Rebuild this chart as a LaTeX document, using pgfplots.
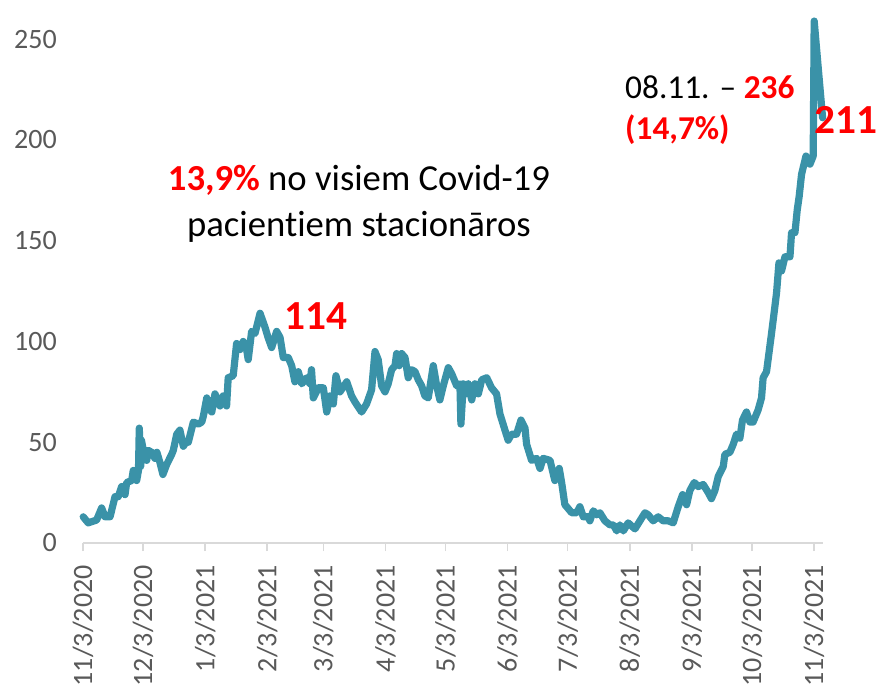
\documentclass[border=0pt]{standalone}
\usepackage{pgfplots}
\pgfplotsset{compat=1.18}
\usepackage{fontspec}
\setmainfont[Ligatures={NoCommon}]{Carlito}
\definecolor{linec}{HTML}{3A92A8}
\definecolor{tickc}{HTML}{595959}
\definecolor{axc}{HTML}{D9D9D9}
\begin{document}
\begin{tikzpicture}
\begin{axis}[
  at={(0,0)}, anchor=south west,
  scale only axis,
  width=555pt, height=396pt,
  xmin=0, xmax=369.5, ymin=0, ymax=262,
  clip=false,
  axis lines*=left,
  x axis line style={draw=axc, line width=1.2pt},
  y axis line style={draw=none},
  xtick={0,30,61,92,120,151,181,212,242,273,304,334,365},
  xticklabels={11/3/2020,12/3/2020,1/3/2021,2/3/2021,3/3/2021,4/3/2021,5/3/2021,6/3/2021,7/3/2021,8/3/2021,9/3/2021,10/3/2021,11/3/2021},
  ytick={0,50,100,150,200,250},
  tick align=outside,
  major tick length=6pt,
  xtick style={draw=axc, line width=1.2pt},
  ytick style={draw=none},
  /pgf/number format/assume math mode=true,
  tick label style={font=\fontsize{21}{25}\selectfont, text=tickc},
  yticklabel style={inner sep=0pt, anchor=east, xshift=-13.5pt},
  xticklabel shift=10.5pt,
  xticklabel style={inner sep=0pt, rotate=90, anchor=east},
]
\addplot[color=linec, line width=5.4pt, line join=round, line cap=round] coordinates {
(0.1,13) (2.6,10) (6.8,11.4) (9.3,17.4) (11,13) (13.5,13) (16,23) (17.6,23) (19.3,28) (21,24)
(21.8,30) (24.3,31) (25.1,36) (26.8,31) (27.7,36) (28.1,57) (28.8,38) (29.2,51) (30.1,46) (31.8,41)
(32.5,46) (34.3,45) (35.9,42) (36.9,45) (38.4,40) (39.9,34) (41.8,39) (44.3,44) (45.1,46) (46.8,54)
(48.4,56) (50.1,48) (51.4,50) (52.6,50) (55.1,60) (57.6,59) (59.3,60) (60.1,63) (61.8,72) (62.6,67)
(64.3,65) (65.9,74) (68.4,68) (70,73) (71.7,68) (72.5,82) (75,83) (76.7,99) (78.4,96) (80,100)
(81.7,96) (82.5,91) (84.2,105) (85.9,104) (88.4,114) (90.9,107) (92.4,102) (94.2,97) (96.7,105) (98.4,102)
(100,92) (102.5,92) (104.2,88) (105.8,80) (107.5,85) (109.2,79) (111.7,82) (113.3,79) (114.1,86) (115,72)
(117.5,77) (120,77) (121.7,65) (123.3,73) (125,69) (126.3,83) (128.3,75) (131.7,80) (134.1,73) (135.8,70)
(139.1,65) (141.6,69) (144.1,76) (145.8,95) (147.4,91) (149.1,78) (150.8,75) (152.4,79) (154.1,86) (155.8,88)
(156.6,94) (157.9,88) (159.1,94) (160.8,92) (162.4,82) (164.1,86) (165.8,85) (167.4,81) (169.1,78) (170.7,73)
(172.4,72) (174.9,88) (176.6,78) (178.2,71) (179.9,78) (182.4,87) (184.1,84) (186.6,78) (188.2,79) (188.7,59)
(189.9,79) (191.2,74) (192.4,79) (194.1,71) (195.7,79) (197.4,74) (199.1,81) (201.6,82) (204,77) (206.5,74)
(208.2,64) (210.7,56) (212.3,51) (214,54) (216.5,54) (218.7,61) (220.7,57) (221.5,49) (224,41) (226.5,42)
(228.2,37) (229.8,42) (233.2,41) (235.6,31) (237.8,37) (239,30) (240.6,19) (241.5,18) (244,15) (246.5,15)
(248.1,18) (249.8,13) (252.3,13) (253.1,11) (254.8,16) (256.5,14) (258.1,15) (260.6,11) (263.1,9) (264.8,9)
(266.5,6) (268.1,9) (269.8,6) (272.2,10) (275.6,7) (278.1,11) (280.6,15) (282.2,14) (284.7,11) (287.2,13)
(289.7,11) (292.2,11) (294.7,10) (297.2,18) (299.4,24) (301.4,19) (303,26) (305.2,30) (307.2,28) (309.7,29)
(312.2,25) (313.8,22) (315.5,26) (317.2,33) (319.7,38) (320.5,44) (323,45) (324.7,49) (326.3,54) (328,52)
(329.3,61) (331.3,65) (333,60) (334.6,60) (337.1,66) (338.8,72) (339.6,82) (341.3,85) (343.8,104) (346.3,124)
(347.5,139) (348.8,135) (350.5,142) (353,142) (353.8,154) (355.5,154) (356.6,165) (357.6,172) (358.8,183) (361,192)
(363,188) (364.6,192) (365.1,259) (367.1,236) (369.3,211)
};
\node[align=center, font=\fontsize{27.5}{35}\selectfont] at (axis cs:137.8,168.4)
  {\textcolor{red}{\textbf{13,9\%}} no visiem Covid-19\\pacientiem stacionāros};
\node[font=\fontsize{31}{36}\selectfont\bfseries, text=red] at (axis cs:116.3,112.4) {114};
\node[font=\fontsize{31}{36}\selectfont\bfseries, text=red] at (axis cs:381,209.8) {211};
\node[align=left, anchor=west, inner sep=0pt, font=\fontsize{25}{30.75}\selectfont] at (axis cs:270.6,214.8)
  {08.11. – \textcolor{red}{\textbf{236}}\\\textcolor{red}{\textbf{(14,7\%)}}};
\end{axis}
\pgfresetboundingbox
\path[use as bounding box] (-62.25pt,-110.25pt) rectangle (597pt,407.25pt);
\end{tikzpicture}
\end{document}
